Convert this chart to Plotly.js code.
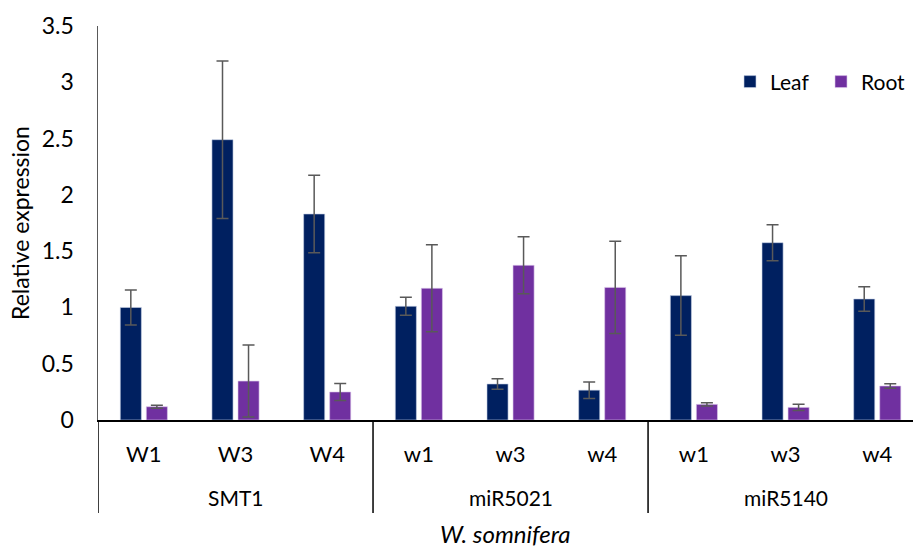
<!DOCTYPE html>
<html>
<head>
<meta charset="utf-8">
<script src="https://cdn.plot.ly/plotly-3.0.1.min.js"></script>
<style>html,body{margin:0;padding:0;background:#fff;}#chart{width:913px;height:547px;}</style>
</head>
<body>
<div id="chart"></div>
<script>
const groups = ["SMT1","SMT1","SMT1","miR5021","miR5021","miR5021","miR5140","miR5140","miR5140"];
const samples = ["W1","W3","W4","w1","w3","w4","w1","w3","w4"];
const groupNames = ["SMT1","miR5021","miR5140"];
const leafValues = [1.00, 2.49, 1.83, 1.01, 0.32, 0.265, 1.105, 1.575, 1.075];
const leafErrors = [0.155, 0.70, 0.345, 0.08, 0.046, 0.073, 0.353, 0.16, 0.108];
const rootValues = [0.118, 0.346, 0.249, 1.17, 1.374, 1.178, 0.139, 0.112, 0.302];
const rootErrors = [0.013, 0.32, 0.075, 0.387, 0.253, 0.41, 0.014, 0.027, 0.02];

const keys = samples.map((s, i) => groups[i] + ' ' + s);
const FONT = "Lato, 'Open Sans', sans-serif";
const errStyle = {type: 'data', visible: true, color: '#595959', thickness: 1.5, width: 6};

const traces = [
  {type: 'bar', name: 'Leaf', x: keys, y: leafValues,
   error_y: Object.assign({array: leafErrors}, errStyle),
   marker: {color: '#002060', line: {color: 'rgba(200,210,230,0.6)', width: 1}}},
  {type: 'bar', name: 'Root', x: keys, y: rootValues,
   error_y: Object.assign({array: rootErrors}, errStyle),
   marker: {color: '#7030A0', line: {color: 'rgba(220,200,235,0.6)', width: 1}}}
];

// group label annotations and divider lines, positioned by category
const annotations = [];
const shapes = [];
groupNames.forEach(g => {
  const idx = groups.map((v, i) => v === g ? i : -1).filter(i => i >= 0);
  const mid = idx[Math.floor(idx.length / 2)];
  annotations.push({text: g, xref: 'x', yref: 'paper', x: keys[mid], y: 0, yshift: -77,
    xanchor: 'center', yanchor: 'middle', showarrow: false,
    font: {family: FONT, size: 21, color: '#000'}});
  shapes.push({type: 'line', xref: 'x', yref: 'paper', x0: idx[0] - 0.5, x1: idx[0] - 0.5,
    y0: 0, y1: -93 / 394, line: {color: '#000', width: 1.5}});
});
annotations.push({text: '<i>W. somnifera</i>', xref: 'paper', yref: 'paper', x: (505 - 98) / 815, y: 0,
  yshift: -(533 - 420), xanchor: 'center', yanchor: 'middle', showarrow: false,
  font: {family: FONT, size: 24, color: '#000'}});
annotations.push({text: 'Relative expression', xref: 'paper', yref: 'paper', x: (20 - 98) / 815, y: 0.5,
  xanchor: 'center', yanchor: 'middle', textangle: -90, showarrow: false,
  font: {family: FONT, size: 23, color: '#000'}});

const layout = {
  width: 913, height: 547,
  margin: {l: 98, r: 0, t: 26, b: 127, autoexpand: false},
  paper_bgcolor: '#fff', plot_bgcolor: '#fff',
  font: {family: FONT, size: 21, color: '#000'},
  barmode: 'group', bargap: 0.432, bargroupgap: 0.19,
  showlegend: true,
  legend: {orientation: 'h', x: (730 - 98) / 815, y: 0.858, xanchor: 'left', yanchor: 'middle',
           font: {family: FONT, size: 21, color: '#000'}, bgcolor: 'rgba(0,0,0,0)',
           itemwidth: 30, entrywidth: 46},
  xaxis: {type: 'category', autorange: false, range: [-0.5, 8.39], showgrid: false, zeroline: false,
          showline: true, linecolor: '#000', linewidth: 1.5, ticks: '',
          tickmode: 'array', tickvals: keys, ticktext: samples, ticklabelstandoff: 14,
          tickfont: {family: FONT, size: 22, color: '#000'}},
  yaxis: {autorange: false, range: [0, 3.5], dtick: 0.5, tick0: 0, showgrid: false, zeroline: false,
          showline: true, linecolor: '#595959', linewidth: 1.5, ticks: '',
          ticklabelstandoff: 18,
          tickfont: {family: FONT, size: 23, color: '#000'}},
  annotations: annotations,
  shapes: shapes
};

Plotly.newPlot('chart', traces, layout, {displayModeBar: false, staticPlot: true});
</script>
</body>
</html>
